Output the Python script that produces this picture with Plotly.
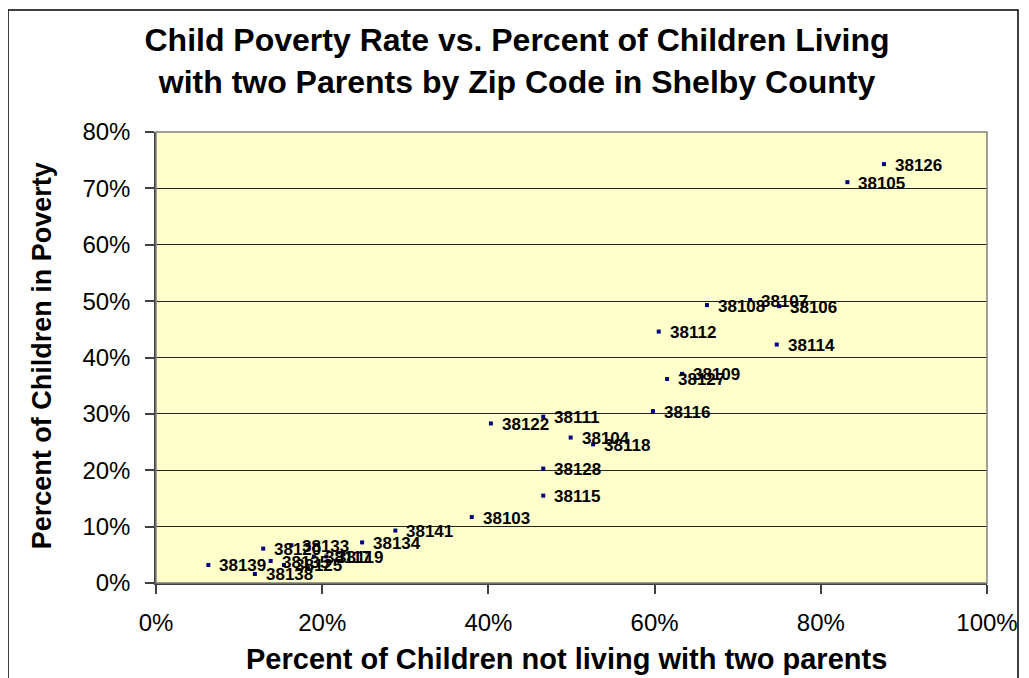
import plotly.graph_objects as go

# Data
zip_codes = ["38126", "38105", "38107", "38108", "38106", "38112", "38114",
             "38109", "38127", "38116", "38111", "38122", "38104", "38118",
             "38128", "38115", "38103", "38141", "38134", "38133", "38120",
             "38135", "38125", "38117", "38119", "38139", "38138"]
pct_not_two_parents = [0.876, 0.832, 0.715, 0.663, 0.750, 0.605, 0.747,
                       0.633, 0.615, 0.598, 0.466, 0.403, 0.499, 0.526,
                       0.466, 0.466, 0.380, 0.288, 0.248, 0.163, 0.129,
                       0.138, 0.154, 0.190, 0.205, 0.063, 0.119]
pct_poverty = [0.743, 0.711, 0.502, 0.493, 0.491, 0.446, 0.423,
               0.371, 0.362, 0.305, 0.295, 0.283, 0.258, 0.246,
               0.203, 0.155, 0.117, 0.093, 0.072, 0.067, 0.061,
               0.039, 0.032, 0.047, 0.047, 0.032, 0.016]
x_ticks = [0, 0.2, 0.4, 0.6, 0.8, 1.0]
y_ticks = [0, 0.1, 0.2, 0.3, 0.4, 0.5, 0.6, 0.7, 0.8]

FONT = "Liberation Sans, Arial, sans-serif"

# page body has an 8px margin, so the figure is 8px smaller
W, H = 1021, 670
L, R, T, B = 148, 42, 124, 95
PW, PH = W - L - R, H - T - B  # 831 x 451

fig = go.Figure()
fig.add_trace(go.Scatter(
    x=pct_not_two_parents, y=pct_poverty, mode="markers",
    marker=dict(symbol="square", size=4, color="#000080"),
    hoverinfo="skip", showlegend=False,
))

annotations = []
for z, xv, yv in zip(zip_codes, pct_not_two_parents, pct_poverty):
    annotations.append(dict(
        x=xv, y=yv, xref="x", yref="y", text=z, showarrow=False,
        xanchor="left", yanchor="middle", xshift=9, yshift=-1,
        font=dict(family=FONT, size=17, color="black", weight="bold"),
    ))

# axis titles
annotations.append(dict(
    x=0.494, y=-0.1685, xref="paper", yref="paper", showarrow=False,
    text="<b>Percent of Children not living with two parents</b>",
    xanchor="center", yanchor="middle",
    font=dict(family=FONT, size=29, color="black"),
))
annotations.append(dict(
    x=-0.137, y=0.503, xref="paper", yref="paper", showarrow=False,
    text="<b>Percent of Children in Poverty</b>", textangle=-90,
    xanchor="center", yanchor="middle",
    font=dict(family=FONT, size=27, color="black"),
))

fig.update_layout(
    width=W, height=H,
    margin=dict(l=L, r=R, t=T, b=B, autoexpand=False),
    paper_bgcolor="white",
    plot_bgcolor="#FFFFCC",
    title=dict(
        text="<b>Child Poverty Rate vs. Percent of Children Living<br>with two Parents by Zip Code in Shelby County</b>",
        x=509 / W, xref="container", xanchor="center",
        y=1 - 43 / H, yref="container", yanchor="middle",
        font=dict(family=FONT, size=32, color="black"),
    ),
    annotations=annotations,
    showlegend=False,
    shapes=[
        dict(type="rect", xref="paper", yref="paper",
             x0=(0 - L) / PW, x1=(1010 - L) / PW,
             y0=(T + PH - 700) / PH, y1=(T + PH - 2) / PH,
             line=dict(color="black", width=1.5), layer="below"),
        dict(type="rect", xref="paper", yref="paper", x0=0, x1=1, y0=0, y1=1,
             line=dict(color="#808080", width=1.5), layer="above"),
    ],
)

fig.update_xaxes(
    range=[0, 1], tickvals=x_ticks, tickformat=".0%",
    showgrid=False, zeroline=False,
    showline=True, linecolor="#404040", linewidth=1.5,
    ticks="outside", ticklen=9, tickcolor="#404040", tickwidth=1.5,
    ticklabelstandoff=8,
    tickfont=dict(family=FONT, size=24, color="black"),
    fixedrange=True,
)
fig.update_yaxes(
    range=[0, 0.8], tickvals=y_ticks, tickformat=".0%",
    showgrid=True, gridcolor="#222222", gridwidth=1, zeroline=False,
    showline=True, linecolor="#404040", linewidth=1.5,
    ticks="outside", ticklen=9, tickcolor="#404040", tickwidth=1.5,
    ticklabelstandoff=10,
    tickfont=dict(family=FONT, size=24, color="black"),
    fixedrange=True,
)

fig.write_html("out.html")
